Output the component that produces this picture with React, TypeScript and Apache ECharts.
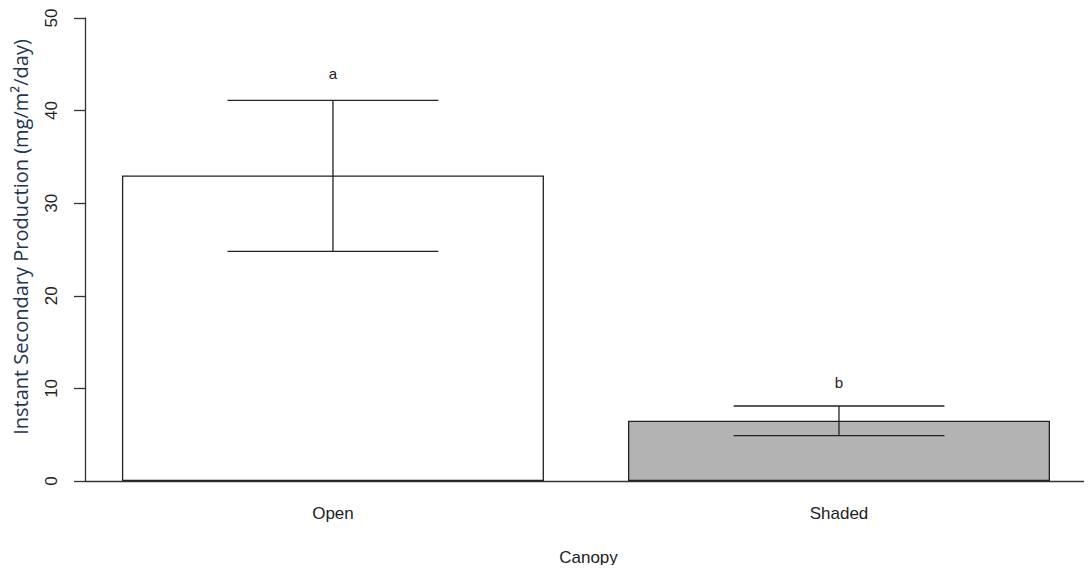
import React, { useEffect, useRef } from "react";
import * as echarts from "echarts";

const categories = ["Open", "Shaded"];
const positions = [0.7, 1.9];
const means = [33, 6.5];
const upper = [41.1, 8.1];
const lower = [24.8, 4.9];
const letters = ["a", "b"];
const letterY = [44, 10.6];
const barColors = ["#ffffff", "#b3b3b3"];
const yTicks = [0, 10, 20, 30, 40, 50];

export default function App() {
  const ref = useRef<HTMLDivElement>(null);
  useEffect(() => {
    const chart = echarts.init(ref.current!, null, { renderer: "svg" });
    const axisColor = "#333333";
    const font = "Liberation Sans, Arial, sans-serif";
    chart.setOption({
      animation: false,
      backgroundColor: "#ffffff",
      grid: { left: 85, right: 0, top: 18, bottom: 92 },
      xAxis: {
        type: "value",
        min: 0.112,
        max: 2.5,
        splitLine: { show: false },
        axisLine: { show: true, lineStyle: { color: axisColor, width: 1.3 } },
        axisTick: { show: false },
        axisLabel: {
          customValues: positions,
          formatter: (v: number) => {
            const i = positions.findIndex((p) => Math.abs(p - v) < 1e-6);
            return i >= 0 ? categories[i] : "";
          },
          margin: 24,
          color: "#222",
          fontSize: 17,
          fontFamily: font,
        },
        name: "Canopy",
        nameLocation: "middle",
        nameGap: 68,
        nameTextStyle: { color: "#222", fontSize: 17, fontFamily: font },
      },
      yAxis: {
        type: "value",
        min: 0,
        max: 50,
        interval: 10,
        splitLine: { show: false },
        axisLine: { show: true, lineStyle: { color: axisColor, width: 1.3 } },
        axisTick: { show: true, length: 11, lineStyle: { color: axisColor, width: 1.3 } },
        axisLabel: {
          rotate: 90,
          margin: 25,
          color: "#222",
          fontSize: 17,
          fontFamily: font,
          formatter: (v: number) => (yTicks.includes(v) ? String(v) : ""),
        },
      },
      graphic: [
        {
          type: "text",
          x: 20,
          y: 237,
          rotation: Math.PI / 2,
          style: {
            text: "Instant Secondary Production (mg/m²/day)",
            fill: "#1f3552",
            fontSize: 20,
            fontFamily: "Open Sans, sans-serif",
            textAlign: "center",
            textVerticalAlign: "middle",
          },
        },
      ],
      series: [
        {
          type: "bar",
          barWidth: 422,
          data: positions.map((p, i) => ({
            value: [p, means[i]],
            itemStyle: { color: barColors[i] },
          })),
          itemStyle: { borderColor: "#222", borderWidth: 1.3 },
        },
        {
          type: "custom",
          renderItem: (params: any, api: any) => {
            const x = api.value(0);
            const hi = api.value(1);
            const lo = api.value(2);
            const ly = api.value(3);
            const top = api.coord([x, hi]);
            const bot = api.coord([x, lo]);
            const capL = api.coord([x - 0.25, hi]);
            const capR = api.coord([x + 0.25, hi]);
            const capL2 = api.coord([x - 0.25, lo]);
            const capR2 = api.coord([x + 0.25, lo]);
            const lp = api.coord([x, ly]);
            const style = { stroke: "#222", lineWidth: 1.3 };
            return {
              type: "group",
              children: [
                { type: "line", shape: { x1: top[0], y1: top[1], x2: bot[0], y2: bot[1] }, style },
                { type: "line", shape: { x1: capL[0], y1: capL[1], x2: capR[0], y2: capR[1] }, style },
                { type: "line", shape: { x1: capL2[0], y1: capL2[1], x2: capR2[0], y2: capR2[1] }, style },
                {
                  type: "text",
                  x: lp[0],
                  y: lp[1],
                  style: {
                    text: letters[params.dataIndex],
                    fill: "#222",
                    fontSize: 15,
                    fontFamily: font,
                    textAlign: "center",
                    textVerticalAlign: "middle",
                  },
                },
              ],
            };
          },
          data: positions.map((p, i) => [p, upper[i], lower[i], letterY[i]]),
          z: 10,
        },
      ],
    });
    return () => chart.dispose();
  }, []);
  return <div ref={ref} style={{ width: 1092, height: 573, margin: -8 }} />;
}
